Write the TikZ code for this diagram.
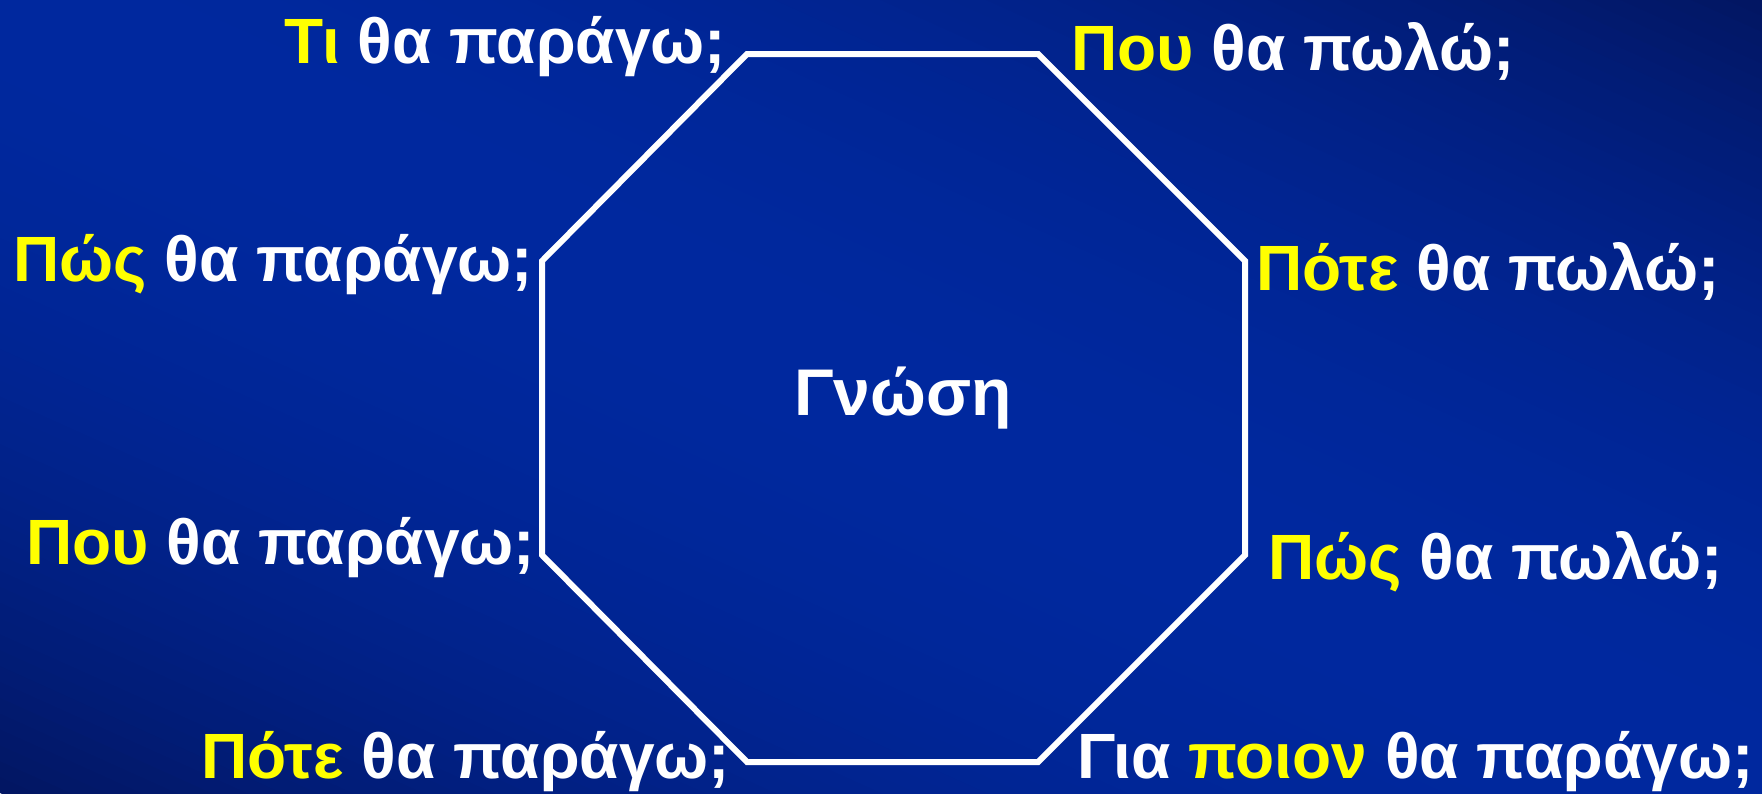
\documentclass[tikz,border=0pt]{standalone}
\usepackage{fontspec}
\setmainfont{Liberation Sans}
\definecolor{bgdark}{RGB}{2,22,98}
\definecolor{bgbright}{RGB}{0,40,158}
\definecolor{qyellow}{RGB}{255,255,0}
\tikzset{
  q/.style={inner sep=0pt, text=white, font=\fontsize{64}{72}\selectfont\bfseries},
  qbig/.style={q, font=\fontsize{66}{74}\selectfont\bfseries},
  octline/.style={draw=white, line width=6pt, line join=miter},
}
\newcommand{\yel}[1]{\textcolor{qyellow}{#1}}
\begin{document}
\begin{tikzpicture}[x=1pt,y=-1pt]
\useasboundingbox (0,0) rectangle (1762,793);
\begin{scope}
  \clip (0,0) rectangle (1762,793);
  \begin{scope}[shift={(0,793)},rotate=65.77]
    \foreach \i in {0,...,99}{
      \pgfmathsetmacro\s{(\i+0.5)/100}
      \pgfmathsetmacro\p{100*(1-(2*\s-1)^2)}
      \fill[bgbright!\p!bgdark] ({\i*14.463pt},-2000pt) rectangle ({(\i+1)*14.463pt+1pt},2000pt);
    }
  \end{scope}
\end{scope}
% octagon
\coordinate (v1) at (747,54);
\coordinate (v2) at (1038,54);
\coordinate (v3) at (1245,261);
\coordinate (v4) at (1245,555);
\coordinate (v5) at (1038,762);
\coordinate (v6) at (747,762);
\coordinate (v7) at (542,555);
\coordinate (v8) at (542,261);
\draw[octline] (v1) -- (v2) -- (v3) -- (v4) -- (v5) -- (v6) -- (v7) -- (v8) -- cycle;
% labels
\node[q, anchor=base east] (t1) at (726,63) {\yel{Τι} θα παράγω;};
\node[q, anchor=base west] (t2) at (1071,70) {\yel{Που} θα πωλώ;};
\node[q, anchor=base east] (t3) at (533,281) {\yel{Πώς} θα παράγω;};
\node[q, anchor=base west] (t4) at (1256,290) {\yel{Πότε} θα πωλώ;};
\node[qbig, anchor=base] (t5) at (903,415) {Γνώση};
\node[q, anchor=base east] (t6) at (535,564) {\yel{Που} θα παράγω;};
\node[q, anchor=base west] (t7) at (1268,579) {\yel{Πώς} θα πωλώ;};
\node[q, anchor=base east] (t8) at (730,778) {\yel{Πότε} θα παράγω;};
\node[q, anchor=base west] (t9) at (1077,778) {Για \yel{ποιον} θα παράγω;};
\end{tikzpicture}
\end{document}
